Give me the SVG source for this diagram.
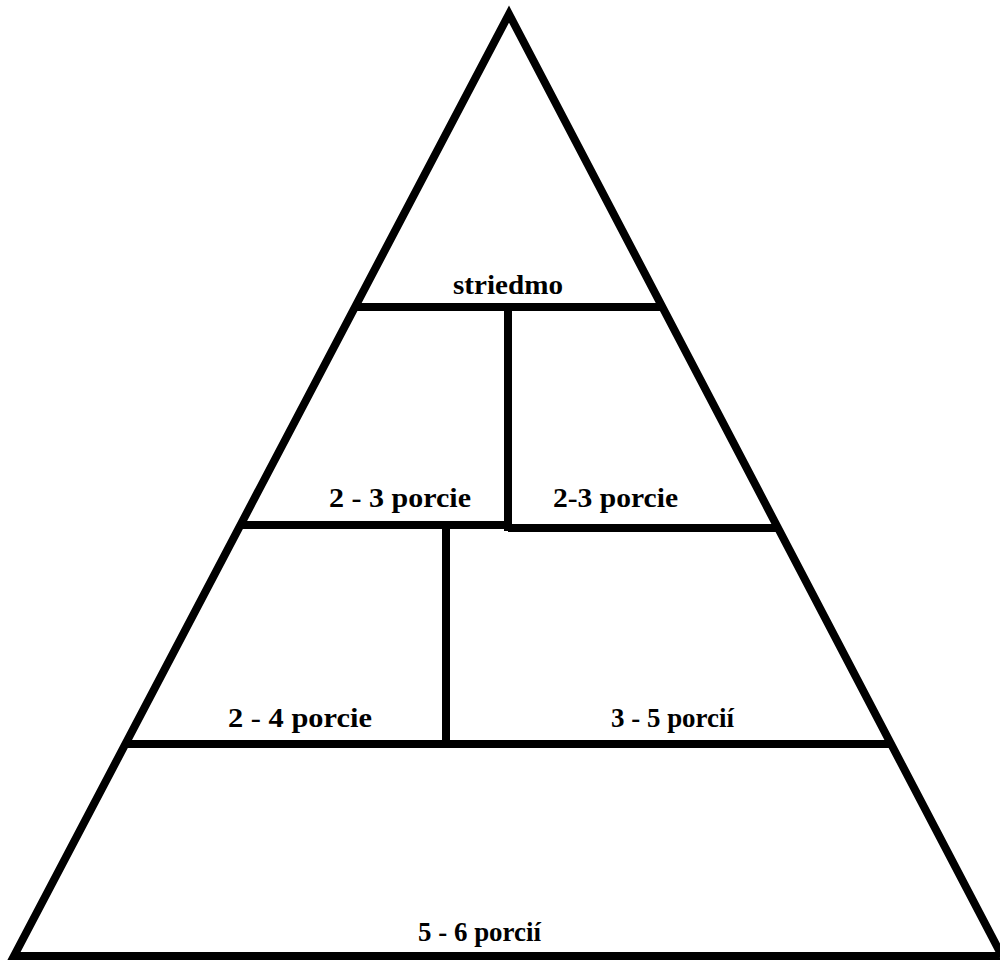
<svg xmlns="http://www.w3.org/2000/svg" width="1000" height="960" viewBox="0 0 1000 960">
<style>
.ln{stroke:#000;stroke-width:8;fill:none;stroke-linejoin:miter;stroke-miterlimit:20}
.t{font-family:"Liberation Serif","Times New Roman",serif;font-weight:bold;font-size:28px;fill:#000}
</style>
<rect width="1000" height="960" fill="#fff"/>
<g id="pyramid">
<polygon class="ln" points="509,14 14,956 1002,956"/>
</g>
<g id="connectors">
<line class="ln" x1="354" y1="307" x2="663" y2="307"/>
<line class="ln" x1="508" y1="307" x2="508" y2="531"/>
<line class="ln" x1="239" y1="525" x2="508" y2="525"/>
<line class="ln" x1="508" y1="528" x2="778" y2="528"/>
<line class="ln" x1="446" y1="525" x2="446" y2="744"/>
<line class="ln" x1="124" y1="744" x2="891" y2="744"/>
</g>
<g id="top"><text class="t" x="453" y="294" textLength="110" lengthAdjust="spacingAndGlyphs">striedmo</text></g>
<g id="tier2-left"><text class="t" x="329" y="507" textLength="142" lengthAdjust="spacingAndGlyphs">2 - 3 porcie</text></g>
<g id="tier2-right"><text class="t" x="553" y="507" textLength="125" lengthAdjust="spacingAndGlyphs">2-3 porcie</text></g>
<g id="tier3-left"><text class="t" x="228" y="727" textLength="144" lengthAdjust="spacingAndGlyphs">2 - 4 porcie</text></g>
<g id="tier3-right"><text class="t" x="611" y="727" textLength="123" lengthAdjust="spacingAndGlyphs">3 - 5 porcií</text></g>
<g id="base"><text class="t" x="418" y="941" textLength="123" lengthAdjust="spacingAndGlyphs">5 - 6 porcií</text></g>
</svg>
